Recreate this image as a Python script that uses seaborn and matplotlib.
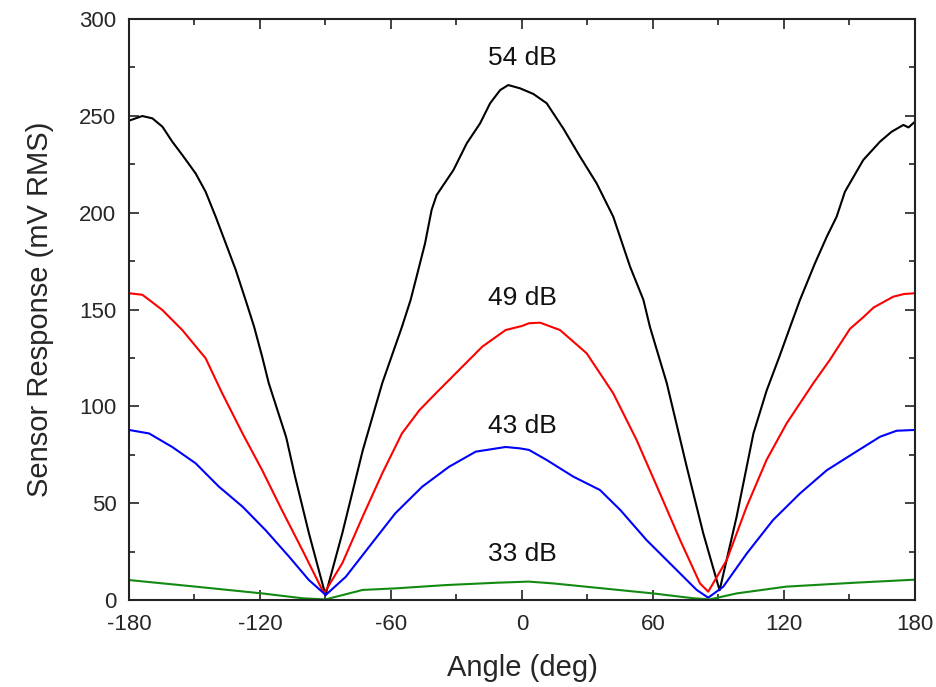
import numpy as np
import pandas as pd
import matplotlib
matplotlib.use("Agg")
import matplotlib.pyplot as plt
import seaborn as sns
from matplotlib.ticker import MultipleLocator

# ---- data ----
angle_54 = [-180, -173.9, -169.3, -164.7, -160.2, -155.6, -149.5, -144.9, -140.3, -135.7, -131.1,
            -126.6, -122.7, -119, -116, -112, -108, -104, -97.6, -90, -82.3, -73, -64, -55, -51,
            -47.5, -44.4, -41.4, -39.1, -36, -31.4, -25.3, -19.2, -14.6, -10, -6.3, -0.9, 5.2,
            11.3, 18.9, 26.6, 34.2, 41.8, 49.5, 55.6, 58.6, 66.3, 75.4, 83, 90.5, 98.3, 106, 112,
            118, 122.8, 127.3, 134.2, 139.6, 144.1, 147.9, 156.3, 164, 169.3, 174.7, 177, 180]
value_54 = [247.5, 249.9, 248.7, 244.4, 236.7, 229.8, 220.3, 210.8, 197.9, 184.2, 170.4,
            154.9, 141.1, 125.6, 112, 98, 84, 64, 34.5, 2.5, 34.5, 77, 112, 141, 155,
            170.4, 184.2, 201.4, 209.1, 214.3, 222, 235.8, 246.1, 256.5, 263.3, 265.9, 264.2, 261.3,
            256.5, 243.5, 228.9, 215.1, 197.9, 172.1, 155, 141, 112, 69, 34.5, 5, 43, 86, 108,
            126, 141, 154.9, 173.9, 187.6, 197.9, 210.8, 227.2, 236.7, 241.8, 245.3, 244, 247]

angle_49 = [-180, -173.9, -170.8, -164.7, -155.6, -144.9, -137.3, -128, -119, -110, -100.6, -90.7,
            -82.3, -73, -64, -55, -47, -39.5, -27.3, -18.2, -7.5, 0, 3.2, 8.3, 17.4, 29.6, 41.8,
            52.5, 63.2, 72.4, 81.5, 85.3, 93.8, 102.9, 112, 121.2, 133.4, 141, 150.2, 156.3, 161,
            170, 175, 180]
value_49 = [158.4, 157.6, 155, 149.7, 139.4, 124.8, 106.7, 86, 67, 46.5, 25.8, 3.4,
            19, 43, 65.4, 86, 98, 106.7, 120.5, 130.8, 139.4, 141.5, 142.9, 143.2, 139.4, 127.4, 106.7,
            82.6, 55, 31, 8.6, 4.3, 20.7, 48.2, 72.3, 91.2, 111.9, 124, 140, 146, 151,
            156.6, 158, 158.4]

angle_43 = [-180, -170.8, -160.2, -149.5, -138.8, -128, -117.4, -106.7, -97.6, -89.9, -80.7, -70,
            -58, -45.7, -33.4, -21.2, -7.5, -1, 3.2, 11.3, 23.5, 35.7, 45, 57, 69.3, 80, 85.3,
            92.2, 103, 115, 127.3, 139.6, 151.8, 164, 171.6, 180]
value_43 = [87.8, 86, 79, 70.6, 58.5, 48.2, 36, 22.4, 10.3, 2.6, 12, 27.5,
            44.8, 58.5, 68.8, 76.6, 79, 78.3, 77.5, 72.3, 63.7, 56.8, 46.5, 31, 17.2, 5.2, 1.2,
            6.9, 24.1, 41.3, 55, 67, 75.7, 84.3, 87.4, 87.8]

angle_33 = [-180, -149.5, -119, -100.6, -90, -73, -58, -35, -12, 3, 14, 37, 60, 78.5, 86, 98.3,
            121, 152, 180]
value_33 = [10.3, 6.9, 3.4, 0.9, 0.3, 5.2, 6, 7.7, 8.9, 9.5, 8.6, 6, 3.4, 0.9, 0.3, 3.4,
            6.9, 8.9, 10.5]

series_names = ["54 dB", "49 dB", "43 dB", "33 dB"]
series_colors = ["#000000", "#ff0000", "#0000ff", "#128a12"]
label_x = [0, 0, 0, 0]
label_y = [280, 156, 90, 24]

x_ticks = [-180, -120, -60, 0, 60, 120, 180]
y_ticks = [0, 50, 100, 150, 200, 250, 300]

frames = []
for name, a, v in zip(series_names,
                      [angle_54, angle_49, angle_43, angle_33],
                      [value_54, value_49, value_43, value_33]):
    frames.append(pd.DataFrame({"angle": a, "value": v, "series": name}))
df = pd.concat(frames, ignore_index=True)

sns.set_style("ticks")
plt.rcParams["font.family"] = ["Liberation Sans", "DejaVu Sans"]
plt.rcParams["axes.unicode_minus"] = False

fig = plt.figure(figsize=(9.37, 6.87), dpi=100)
ax = fig.add_axes([129 / 937, 87 / 687, 786 / 937, 581 / 687])

sns.lineplot(data=df, x="angle", y="value", hue="series", hue_order=series_names,
             palette=dict(zip(series_names, series_colors)), sort=False,
             estimator=None, linewidth=1.5, legend=False, ax=ax)

for name, lx, ly in zip(series_names, label_x, label_y):
    ax.text(lx, ly, name, ha="center", va="center", fontsize=19, color="#111111")

ax.set_xlim(-180, 180)
ax.set_ylim(0, 300)
ax.set_xticks(x_ticks)
ax.set_yticks(y_ticks)
ax.xaxis.set_minor_locator(MultipleLocator(30))
ax.yaxis.set_minor_locator(MultipleLocator(25))
ax.tick_params(which="both", direction="in", top=True, right=True, width=1.2, color="#222222")
ax.tick_params(which="major", length=7.5, labelsize=16)
ax.tick_params(axis="x", which="major", pad=10)
ax.tick_params(axis="y", which="major", pad=9)
ax.tick_params(which="minor", length=4)
for sp in ax.spines.values():
    sp.set_visible(True)
    sp.set_linewidth(1.5)
    sp.set_color("#222222")

ax.set_xlabel("Angle (deg)", fontsize=21, labelpad=14)
ax.set_ylabel("Sensor Response (mV RMS)", fontsize=21, labelpad=18)

fig.savefig("out.png", dpi=100)
